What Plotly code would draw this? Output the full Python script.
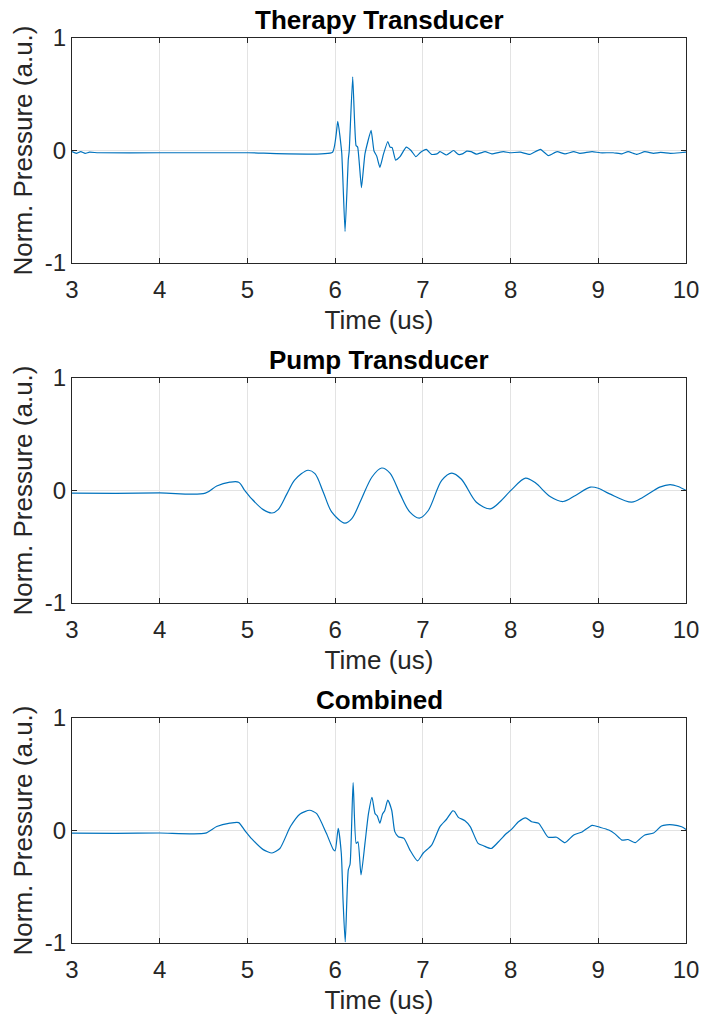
import plotly.graph_objects as go

# ---------------- data ----------------
titles = ["Therapy Transducer", "Pump Transducer", "Combined"]
x_ticks = [3, 4, 5, 6, 7, 8, 9, 10]
y_ticks = [-1, 0, 1]

t_therapy = [3.0, 3.05, 3.1, 3.15, 3.2, 3.3, 4.0, 5.0, 5.97, 6.03, 6.075, 6.113, 6.15, 6.16,
             6.20, 6.238, 6.257, 6.30, 6.34, 6.41, 6.443, 6.474, 6.51, 6.55, 6.60, 6.626,
             6.65, 6.69, 6.74, 6.81, 6.865, 6.92, 6.975, 7.04, 7.10, 7.16, 7.196, 7.27,
             7.35, 7.405, 7.45, 7.50, 7.55, 7.61, 7.71, 7.785, 7.92, 7.99, 8.11, 8.22,
             8.34, 8.43, 8.53, 8.62, 8.72, 8.79, 8.93, 9.02, 9.17, 9.27, 9.34, 9.44,
             9.53, 9.63, 9.71, 9.82, 9.93, 10.0]
p_therapy = [-0.01, -0.025, -0.01, -0.025, -0.015, -0.02, -0.02, -0.02, -0.015, 0.26, -0.02,
             -0.72, -0.08, -0.01, 0.655, 0.045, 0.03, -0.33, -0.03, 0.18, -0.005, -0.05,
             -0.15, -0.035, 0.08, 0.03, 0.025, -0.085, -0.055, 0.03, 0.0, -0.055, -0.015,
             0.01, -0.035, -0.03, -0.01, -0.04, 0.0, -0.035, -0.03, -0.006, -0.01, -0.033,
             -0.01, -0.03, -0.01, -0.02, -0.015, -0.035, 0.01, -0.045, -0.01, -0.03, -0.01,
             -0.025, -0.01, -0.02, -0.02, -0.03, -0.01, -0.035, -0.01, -0.025, -0.017,
             -0.025, -0.02, -0.015]

t_pump = [3.0, 3.5, 4.0, 4.52, 4.65, 4.80, 4.90, 4.97, 5.05, 5.18, 5.28, 5.35, 5.45, 5.54,
          5.69, 5.77, 5.865, 5.96, 6.11, 6.19, 6.30, 6.42, 6.53, 6.625, 6.74, 6.85, 6.96,
          7.06, 7.215, 7.33, 7.44, 7.61, 7.77, 7.88, 8.01, 8.17, 8.28, 8.45, 8.60, 8.74,
          8.91, 9.0, 9.13, 9.38, 9.51, 9.70, 9.82, 9.91, 10.0]
p_pump = [-0.024, -0.025, -0.022, -0.024, 0.04, 0.074, 0.074, 0.0, -0.075, -0.17, -0.2,
          -0.17, -0.03, 0.095, 0.18, 0.15, -0.015, -0.19, -0.29, -0.25, -0.075, 0.12, 0.2,
          0.155, -0.03, -0.19, -0.245, -0.18, 0.09, 0.155, 0.1, -0.104, -0.163, -0.1, 0.006,
          0.11, 0.07, -0.053, -0.098, -0.044, 0.03, 0.02, -0.03, -0.104, -0.06, 0.03, 0.053,
          0.035, 0.0]

t_comb = [3.0, 3.5, 4.0, 4.52, 4.65, 4.80, 4.90, 4.97, 5.05, 5.18, 5.28, 5.37, 5.49, 5.60,
          5.71, 5.79, 5.90, 5.98, 6.0, 6.035, 6.07, 6.09, 6.115, 6.15, 6.17, 6.205, 6.24,
          6.26, 6.295, 6.34, 6.38, 6.42, 6.455, 6.48, 6.51, 6.54, 6.565, 6.60, 6.645, 6.68,
          6.72, 6.785, 6.85, 6.94, 7.005, 7.10, 7.195, 7.27, 7.34, 7.36, 7.405, 7.48, 7.54,
          7.63, 7.69, 7.78, 7.88, 7.955, 8.01, 8.09, 8.17, 8.24, 8.32, 8.36, 8.43, 8.525,
          8.62, 8.72, 8.815, 8.93, 9.02, 9.12, 9.19, 9.27, 9.34, 9.42, 9.48, 9.53, 9.63,
          9.72, 9.78, 9.85, 9.95, 10.0]
p_comb = [-0.024, -0.025, -0.022, -0.024, 0.035, 0.065, 0.07, 0.0, -0.075, -0.17, -0.2,
          -0.16, 0.035, 0.147, 0.18, 0.15, -0.025, -0.17, -0.18, 0.02, -0.2, -0.62, -0.99,
          -0.35, -0.3, 0.425, -0.115, -0.1, -0.395, -0.115, 0.15, 0.295, 0.15, 0.13, 0.065,
          0.147, 0.175, 0.27, 0.18, -0.01, -0.055, -0.07, -0.17, -0.27, -0.2, -0.13, 0.035,
          0.1, 0.175, 0.17, 0.117, 0.087, 0.035, -0.115, -0.135, -0.16, -0.085, -0.025, 0.01,
          0.078, 0.113, 0.078, 0.064, 0.02, -0.06, -0.06, -0.108, -0.04, -0.013, 0.046,
          0.028, 0.004, -0.03, -0.085, -0.08, -0.108, -0.07, -0.04, -0.022, 0.04, 0.05,
          0.05, 0.033, 0.01]

series = [(t_therapy, p_therapy, 0.4), (t_pump, p_pump, 0.9), (t_comb, p_comb, 0.6)]

# ---------------- figure ----------------
W, H = 704, 1016
L, R, T, B = 72, 18, 38, 73
plot_h = H - T - B
panels_px = [(38, 263), (378, 603), (718, 943)]
domains = [((H - B - b) / plot_h, (H - B - t) / plot_h) for (t, b) in panels_px]

FONT = "Liberation Sans, Arial, sans-serif"
TXT = "#262626"
TICK_SIZE = 24
LABEL_SIZE = 26

fig = go.Figure()
for i, ((tx, py, sm), dom) in enumerate(zip(series, domains)):
    n = "" if i == 0 else str(i + 1)
    fig.add_trace(go.Scatter(
        x=tx, y=py, mode="lines",
        line=dict(color="#0072BD", width=1.2, shape="spline", smoothing=sm),
        xaxis="x" + n, yaxis="y" + n, showlegend=False, hoverinfo="skip"))
    common = dict(showline=True, linecolor=TXT, linewidth=1, mirror="ticks",
                  ticks="inside", ticklen=5, tickcolor=TXT, showgrid=True,
                  gridcolor="#e3e3e3", gridwidth=1, zeroline=False, automargin=False,
                  tickfont=dict(family=FONT, size=TICK_SIZE, color=TXT))
    fig.update_layout(**{
        "xaxis" + n: dict(domain=[0, 1], anchor="y" + n, range=[3, 10],
                          tickvals=x_ticks, ticktext=[str(v) for v in x_ticks],
                          ticklabelstandoff=5,
                          title=dict(text="Time (us)", standoff=9,
                                     font=dict(family=FONT, size=LABEL_SIZE, color=TXT)),
                          **common),
        "yaxis" + n: dict(domain=list(dom), anchor="x" + n, range=[-1, 1],
                          tickvals=y_ticks, ticktext=["-1", "0", "1"],
                          title=dict(text="Norm. Pressure (a.u.)", standoff=4,
                                     font=dict(family=FONT, size=LABEL_SIZE, color=TXT)),
                          **common),
    })
    fig.add_annotation(text="<b>%s</b>" % titles[i], xref="paper", yref="paper",
                       x=0.5, y=dom[1], yanchor="bottom", xanchor="center",
                       yshift=1, showarrow=False,
                       font=dict(family=FONT, size=LABEL_SIZE, color="black"))

fig.update_layout(width=W, height=H, margin=dict(l=L, r=R, t=T, b=B),
                  paper_bgcolor="white", plot_bgcolor="white")
fig.write_html("out.html")
